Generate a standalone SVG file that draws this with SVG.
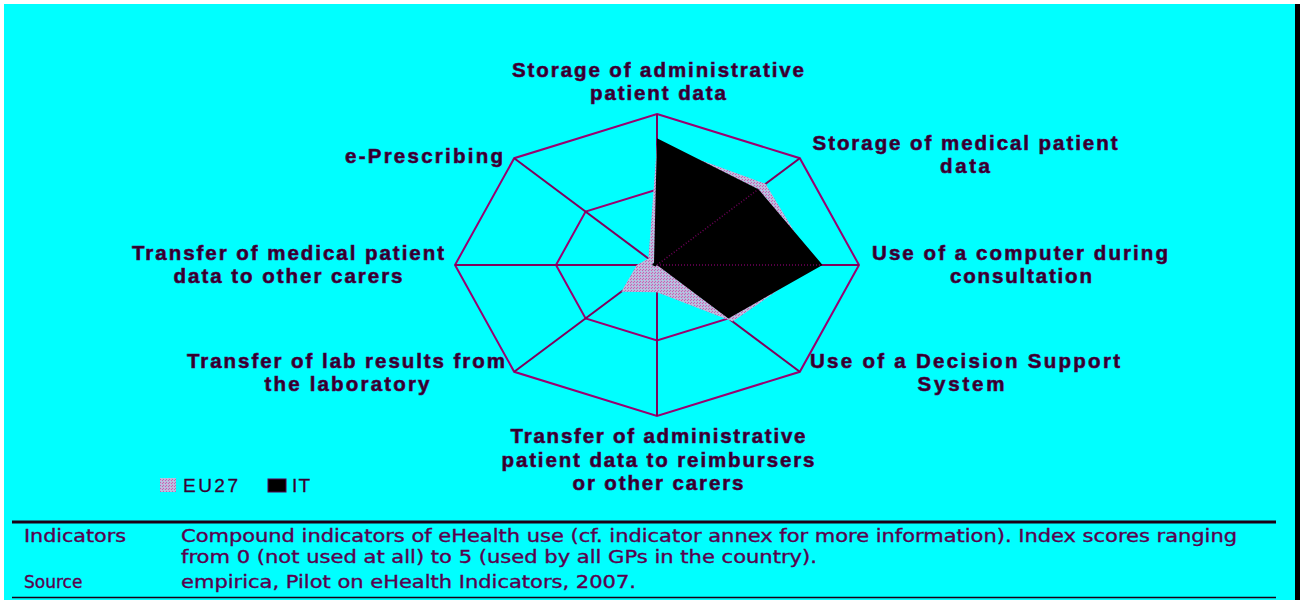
<svg xmlns="http://www.w3.org/2000/svg" width="1300" height="600" viewBox="0 0 1300 600">
<defs>
<pattern id="eu" width="3" height="3" patternUnits="userSpaceOnUse">
<rect width="3" height="3" fill="#c8b0d8"/>
<rect x="0" y="0" width="1" height="1" fill="#b070b8"/>
<rect x="2" y="1" width="1" height="1" fill="#8fe0ee"/>
<rect x="1" y="2" width="1" height="1" fill="#b070b8"/>
</pattern>
<style>
.lbl{font-family:"Liberation Sans",Arial,sans-serif;font-weight:bold;font-size:20.5px;fill:#2e0028;stroke:#5a0050;stroke-width:0.6;text-anchor:middle}
.grid{fill:none;stroke:#9a0070;stroke-width:2;stroke-linejoin:miter}
.spoke{stroke:#80005c;stroke-width:2}
.note{font-family:"DejaVu Sans",Verdana,sans-serif;font-size:17px;fill:#5a004e;stroke:#5a004e;stroke-width:0.35}
.leg{font-family:"Liberation Sans",Arial,sans-serif;font-size:19px;fill:#3a0032;stroke:#3a0032;stroke-width:0.3}
</style>
</defs>
<rect width="1300" height="600" fill="#ffffff"/>
<rect x="4" y="4" width="1291" height="596" fill="#00ffff"/>
<rect x="1295" y="4" width="5" height="596" fill="#000000"/>

<g id="grid">
<polygon class="grid" points="657,114 799.8,158.2 859,265 799.8,371.8 657,416 514.2,371.8 455,265 514.2,158.2"/>
<polygon class="grid" points="657,189.5 728.4,211.6 758,265 728.4,318.4 657,340.5 585.6,318.4 556,265 585.6,211.6"/>
<line class="spoke" x1="657" y1="265" x2="657" y2="114"/>
<line class="spoke" x1="657" y1="265" x2="799.8" y2="158.2"/>
<line class="spoke" x1="657" y1="265" x2="859" y2="265"/>
<line class="spoke" x1="657" y1="265" x2="799.8" y2="371.8"/>
<line class="spoke" x1="657" y1="265" x2="657" y2="416"/>
<line class="spoke" x1="657" y1="265" x2="514.2" y2="371.8"/>
<line class="spoke" x1="657" y1="265" x2="455" y2="265"/>
<line class="spoke" x1="657" y1="265" x2="514.2" y2="158.2"/>
</g>

<g id="series-eu27">
<polygon fill="url(#eu)" points="657,144.2 765.5,183.8 814.6,265 732.7,321.6 657,292.2 621.3,291.7 636.8,265 648.4,258.6"/>
</g>
<g id="series-it">
<polygon fill="#000000" points="657,138.2 758.4,189.2 822.6,265 728.4,318.4 657,265 655.5,266.5 652,265 654,262.5"/>
<line x1="657" y1="265" x2="758.4" y2="189.2" stroke="#70005a" stroke-width="1.5" stroke-dasharray="1 2"/>
<line x1="657" y1="265" x2="822.6" y2="265" stroke="#70005a" stroke-width="1.5" stroke-dasharray="1 2"/>
</g>

<g id="label-storage-admin">
<text class="lbl" x="658" y="77" textLength="292" lengthAdjust="spacing">Storage of administrative</text>
<text class="lbl" x="658" y="100" textLength="136" lengthAdjust="spacing">patient data</text>
</g>
<g id="label-storage-medical">
<text class="lbl" x="965" y="150" textLength="305" lengthAdjust="spacing">Storage of medical patient</text>
<text class="lbl" x="965" y="173" textLength="50" lengthAdjust="spacing">data</text>
</g>
<g id="label-computer">
<text class="lbl" x="1020" y="260" textLength="296" lengthAdjust="spacing">Use of a computer during</text>
<text class="lbl" x="1021" y="283" textLength="142" lengthAdjust="spacing">consultation</text>
</g>
<g id="label-dss">
<text class="lbl" x="965" y="368" textLength="310" lengthAdjust="spacing">Use of a Decision Support</text>
<text class="lbl" x="961" y="391" textLength="87" lengthAdjust="spacing">System</text>
</g>
<g id="label-transfer-admin">
<text class="lbl" x="658" y="443" textLength="295" lengthAdjust="spacing">Transfer of administrative</text>
<text class="lbl" x="658" y="467" textLength="313" lengthAdjust="spacing">patient data to reimbursers</text>
<text class="lbl" x="658" y="490" textLength="171" lengthAdjust="spacing">or other carers</text>
</g>
<g id="label-lab">
<text class="lbl" x="346" y="368" textLength="318" lengthAdjust="spacing">Transfer of lab results from</text>
<text class="lbl" x="347" y="391" textLength="165" lengthAdjust="spacing">the laboratory</text>
</g>
<g id="label-transfer-medical">
<text class="lbl" x="288" y="260" textLength="312" lengthAdjust="spacing">Transfer of medical patient</text>
<text class="lbl" x="288" y="283" textLength="229" lengthAdjust="spacing">data to other carers</text>
</g>
<g id="label-eprescribing">
<text class="lbl" x="424" y="163" textLength="158" lengthAdjust="spacing">e-Prescribing</text>
</g>

<g id="legend">
<rect x="160" y="478" width="16" height="14" fill="url(#eu)"/>
<text class="leg" x="183" y="492" textLength="55" lengthAdjust="spacing">EU27</text>
<rect x="268" y="479" width="18" height="13" fill="#000000" stroke="#5a0050" stroke-width="1"/>
<text class="leg" x="292" y="492" textLength="18" lengthAdjust="spacing">IT</text>
</g>

<g id="footer">
<line x1="12" y1="522" x2="1276" y2="522" stroke="#1a0016" stroke-width="3"/>
<line x1="12" y1="597.5" x2="1276" y2="597.5" stroke="#1a0016" stroke-width="1.5"/>
<text class="note" x="24" y="542" textLength="102" lengthAdjust="spacingAndGlyphs">Indicators</text>
<text class="note" x="181" y="542" textLength="1056" lengthAdjust="spacingAndGlyphs">Compound indicators of eHealth use (cf. indicator annex for more information). Index scores ranging</text>
<text class="note" x="181" y="563" textLength="636" lengthAdjust="spacingAndGlyphs">from 0 (not used at all) to 5 (used by all GPs in the country).</text>
<text class="note" x="24" y="588">Source</text>
<text class="note" x="181" y="588" textLength="455" lengthAdjust="spacingAndGlyphs">empirica, Pilot on eHealth Indicators, 2007.</text>
</g>
</svg>
